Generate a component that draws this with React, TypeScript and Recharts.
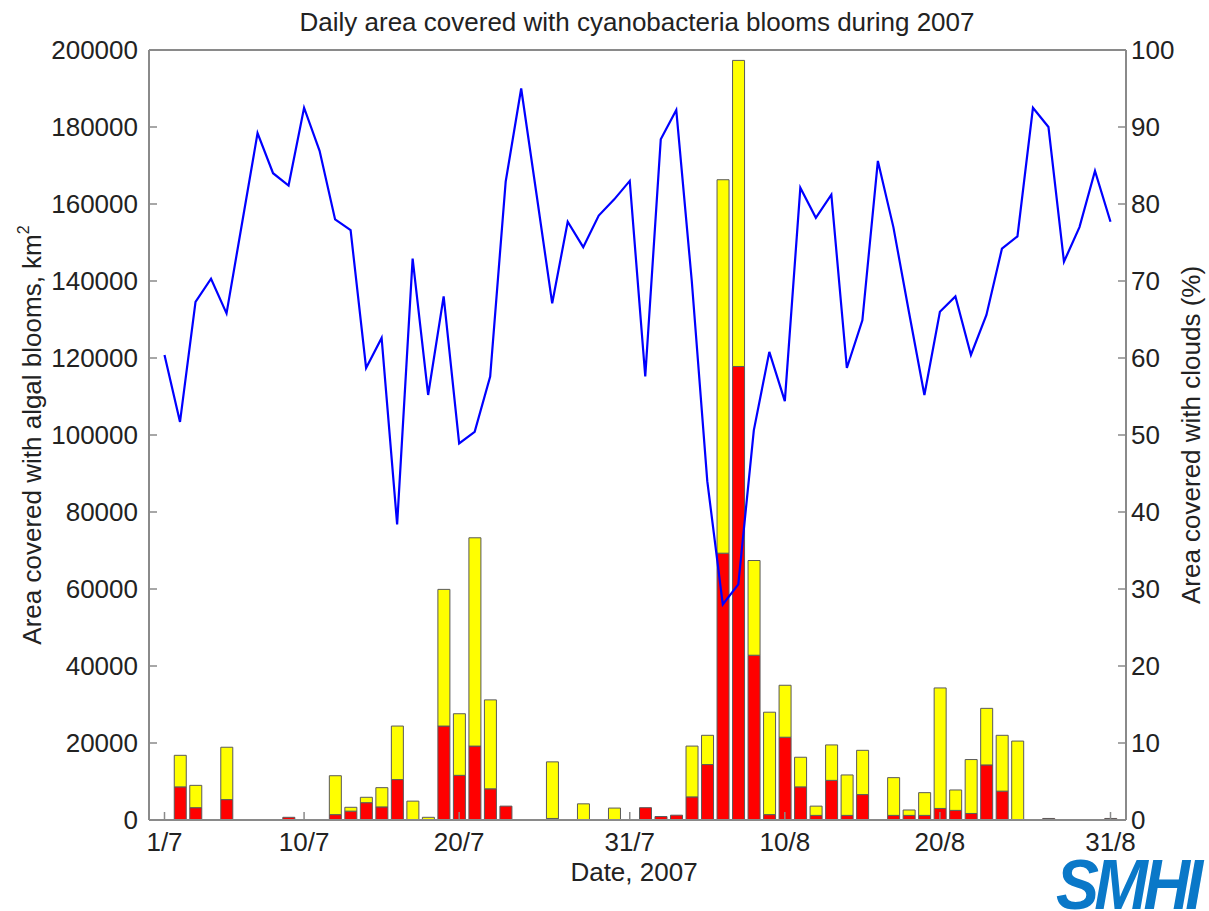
import React from 'react';
import {
  ComposedChart,
  Bar,
  Line,
  XAxis,
  YAxis,
  ReferenceLine,
} from 'recharts';

// 1/7 .. 31/8
const julyDays = 31;
const augustDays = 31;
const dates: string[] = [
  ...Array.from({ length: julyDays }, (_, i) => `${i + 1}/7`),
  ...Array.from({ length: augustDays }, (_, i) => `${i + 1}/8`),
];
const dateTicks = ['1/7', '10/7', '20/7', '31/7', '10/8', '20/8', '31/8'];

// total bloom area (yellow top), km2
const totalBloom = [
  0, 16800, 9000, 0, 18900, 0, 0, 0, 700, 0,
  0, 11500, 3300, 5900, 8400, 24400, 4900, 700, 59900, 27600,
  73300, 31200, 3600, 0, 0, 15100, 0, 4200, 0, 3100,
  0, 3200, 900, 1250, 19200, 22000, 166300, 197300, 67400, 28000,
  35000, 16300, 3600, 19500, 11700, 18100, 0, 11000, 2600, 7100,
  34300, 7800, 15700, 29000, 22000, 20500, 0, 400, 0, 0,
  0, 400,
];

// dense bloom area (red part), km2
const denseBloom = [
  0, 8600, 3200, 0, 5300, 0, 0, 0, 700, 0,
  0, 1400, 2300, 4500, 3400, 10500, 0, 0, 24400, 11600,
  19200, 8100, 3600, 0, 0, 400, 0, 0, 0, 0,
  0, 3200, 900, 1250, 6000, 14400, 69300, 117800, 42800, 1400,
  21500, 8600, 1200, 10300, 1200, 6600, 0, 1200, 1200, 1200,
  3000, 2500, 1700, 14300, 7500, 0, 0, 400, 0, 0,
  0, 400,
];

// cloud cover, %
const cloudCover = [
  60.4, 51.7, 67.3, 70.3, 65.8, 77.5, 89.2, 84.0, 82.4, 92.5,
  86.9, 78.0, 76.6, 58.7, 62.6, 38.4, 72.9, 55.2, 68.0, 48.9,
  50.4, 57.6, 82.9, 95.0, 81.1, 67.1, 77.7, 74.4, 78.5, 80.6,
  83.0, 57.6, 88.4, 92.2, 70.0, 44.0, 28.0, 30.6, 50.6, 60.8,
  54.4, 82.1, 78.2, 81.2, 58.7, 64.9, 85.6, 77.0, 66.0, 55.2,
  66.0, 68.0, 60.4, 65.6, 74.2, 75.8, 92.5, 90.0, 72.5, 77.0,
  84.3, 77.7,
];

const areaTicks = [0, 20000, 40000, 60000, 80000, 100000, 120000, 140000, 160000, 180000, 200000];
const cloudTicks = [0, 10, 20, 30, 40, 50, 60, 70, 80, 90, 100];

const data = dates.map((date, i) => ({
  date,
  red: denseBloom[i],
  yellow: totalBloom[i] - denseBloom[i],
  cloud: cloudCover[i],
}));

const FONT = '"Liberation Sans", Arial, Helvetica, sans-serif';
const TEXT = '#222';
const AXIS = '#8a8a8a';
const FS = 26;

const LeftTick = (props: any) => {
  const { x, y, payload } = props;
  return (
    <g>
      <line x1={x} y1={y} x2={x + 8} y2={y} stroke={AXIS} strokeWidth={1.5} />
      <text x={x - 11} y={y} dy="0.36em" textAnchor="end" fontSize={FS} fontFamily={FONT} fill={TEXT}>
        {payload.value}
      </text>
    </g>
  );
};

const RightTick = (props: any) => {
  const { x, y, payload } = props;
  return (
    <g>
      <line x1={x - 8} y1={y} x2={x} y2={y} stroke={AXIS} strokeWidth={1.5} />
      <text x={x + 5} y={y} dy="0.36em" textAnchor="start" fontSize={FS} fontFamily={FONT} fill={TEXT}>
        {payload.value}
      </text>
    </g>
  );
};

const BottomTick = (props: any) => {
  const { x, y, payload } = props;
  return (
    <g>
      <line x1={x} y1={y} x2={x} y2={y - 8} stroke={AXIS} strokeWidth={1.5} />
      <text x={x} y={y + 31} textAnchor="middle" fontSize={FS} fontFamily={FONT} fill={TEXT}>
        {payload.value}
      </text>
    </g>
  );
};

const centered = (x: number, y: number, rotate = 0): React.CSSProperties => ({
  position: 'absolute',
  left: x,
  top: y,
  transform: `translate(-50%, -50%) rotate(${rotate}deg)`,
  whiteSpace: 'nowrap',
  fontFamily: FONT,
  fontSize: FS,
  lineHeight: 1,
  color: TEXT,
});

export default function App() {
  return (
    <div style={{ position: 'absolute', left: 0, top: 0, width: 1209, height: 911, background: '#fff', overflow: 'hidden' }}>
      <ComposedChart
        width={1209}
        height={911}
        data={data}
        margin={{ top: 50, left: 49, right: 23, bottom: 51 }}
        barGap={0}
      >
        <XAxis
          dataKey="date"
          type="category"
          ticks={dateTicks}
          interval={0}
          padding={{ left: 7.75, right: 7.75 }}
          height={40}
          tickSize={0}
          tickMargin={0}
          tickLine={false}
          tick={<BottomTick />}
          axisLine={{ stroke: AXIS, strokeWidth: 2 }}
        />
        <YAxis
          yAxisId="left"
          orientation="left"
          width={100}
          domain={[0, 200000]}
          ticks={areaTicks}
          interval={0}
          tickSize={0}
          tickMargin={0}
          tickLine={false}
          tick={<LeftTick />}
          axisLine={{ stroke: AXIS, strokeWidth: 2 }}
        />
        <YAxis
          yAxisId="right"
          orientation="right"
          width={60}
          domain={[0, 100]}
          ticks={cloudTicks}
          interval={0}
          tickSize={0}
          tickMargin={0}
          tickLine={false}
          tick={<RightTick />}
          axisLine={{ stroke: AXIS, strokeWidth: 2 }}
        />
        <ReferenceLine yAxisId="left" y={200000} stroke={AXIS} strokeWidth={2} />
        <Bar
          yAxisId="left"
          dataKey="red"
          stackId="bloom"
          fill="#ff0000"
          stroke="#5a5a5a"
          strokeWidth={1}
          barSize={12}
          isAnimationActive={false}
        />
        <Bar
          yAxisId="left"
          dataKey="yellow"
          stackId="bloom"
          fill="#ffff00"
          stroke="#5a5a5a"
          strokeWidth={1}
          barSize={12}
          isAnimationActive={false}
        />
        <Line
          yAxisId="right"
          dataKey="cloud"
          type="linear"
          stroke="#0000ff"
          strokeWidth={2.2}
          dot={false}
          activeDot={false}
          isAnimationActive={false}
        />
      </ComposedChart>

      <div style={centered(637, 22)}>Daily area covered with cyanobacteria blooms during 2007</div>
      <div style={centered(634, 872)}>Date, 2007</div>
      <div style={centered(32, 435, -90)}>
        Area covered with algal blooms, km<sup style={{ fontSize: 16, verticalAlign: 'top', position: 'relative', top: -3 }}>2</sup>
      </div>
      <div style={centered(1191, 435, -90)}>Area covered with clouds (%)</div>
      <div
        style={{
          position: 'absolute',
          left: 1056,
          top: 859,
          fontFamily: FONT,
          fontWeight: 900,
          fontStyle: 'italic',
          fontSize: 70,
          lineHeight: '52px',
          height: 52,
          letterSpacing: -5,
          color: '#0a78c8',
          transform: 'scaleX(0.92)',
          transformOrigin: 'left top',
        }}
      >
        SMHI
      </div>
    </div>
  );
}
